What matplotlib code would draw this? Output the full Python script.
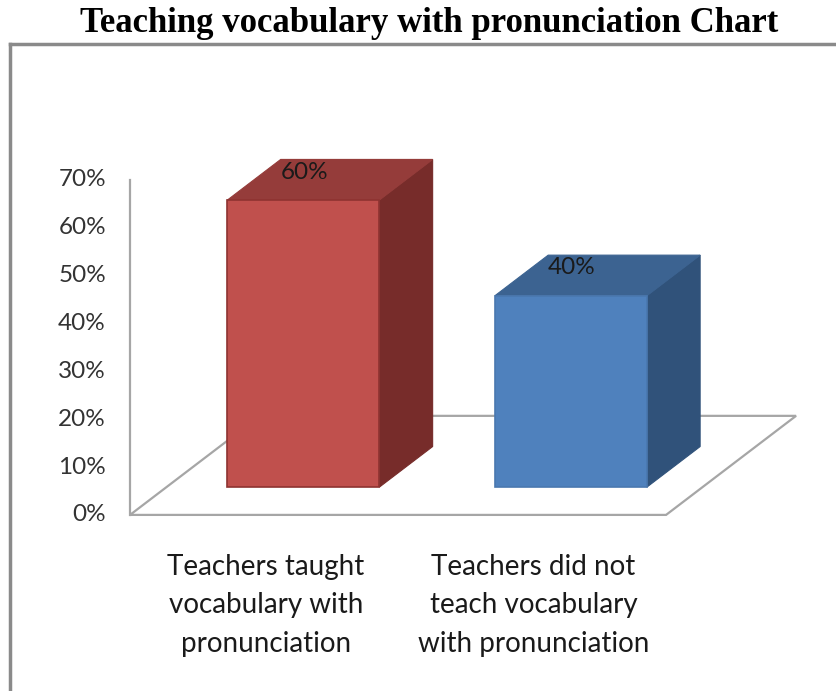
import matplotlib.pyplot as plt
from matplotlib.patches import Polygon
from matplotlib.lines import Line2D

# data
categories = ["Teachers taught\nvocabulary with\npronunciation",
              "Teachers did not\nteach vocabulary\nwith pronunciation"]
values = [60, 40]
value_labels = ["60%", "40%"]
yticks = [0, 10, 20, 30, 40, 50, 60, 70]
ytick_labels = ["0%", "10%", "20%", "30%", "40%", "50%", "60%", "70%"]

front_colors = ["#C0504D", "#4F81BD"]
top_colors = ["#953C3A", "#3C6391"]
side_colors = ["#772C2A", "#30527A"]
edge_colors = ["#8E3331", "#4A78AF"]

# fake 3d geometry (in axis units)
DX, DY = 0.486, 20.7      # full floor depth
F0, F1 = 0.28, 0.41       # bar front offset, bar depth (fractions of floor depth)
W = 0.568                 # bar width
GRID = "#A6A6A6"

fig = plt.figure(figsize=(8.37, 6.91), dpi=100)
ax = fig.add_axes([0, 0, 1, 1])
ax.set_xlim(-0.998, 2.131)
ax.set_ylim(-36.8, 107.6)
ax.axis("off")

# floor
xl, xr = -0.512, 1.492
floor = Polygon([(xl, 0), (xr, 0), (xr + DX, DY), (xl + DX, DY)], closed=True,
                facecolor="white", edgecolor=GRID, lw=1.6, zorder=1)
ax.add_patch(floor)
# vertical axis
ax.plot([xl, xl], [0, yticks[-1]], color=GRID, lw=1.6, zorder=1)
for t, lab in zip(yticks, ytick_labels):
    ax.text(xl - 0.09, t, lab, ha="right", va="center", fontsize=17.5,
            family="Lato", color="#333333")

# bars
for i, v in enumerate(values):
    x0 = i - W / 2 + F0 * DX
    y0 = F0 * DY
    ddx, ddy = F1 * DX, F1 * DY
    side = Polygon([(x0 + W, y0), (x0 + W + ddx, y0 + ddy),
                    (x0 + W + ddx, y0 + v + ddy), (x0 + W, y0 + v)],
                   facecolor=side_colors[i], edgecolor=side_colors[i], lw=0.8, zorder=2)
    top = Polygon([(x0, y0 + v), (x0 + W, y0 + v), (x0 + W + ddx, y0 + v + ddy),
                   (x0 + ddx, y0 + v + ddy)],
                  facecolor=top_colors[i], edgecolor=top_colors[i], lw=0.8, zorder=2)
    ax.add_patch(side)
    ax.add_patch(top)
    ax.bar(x0 + W / 2, v, width=W, bottom=y0, color=front_colors[i],
           edgecolor=edge_colors[i], lw=1.2, zorder=3)
    ax.text(i + 0.14, v + 11.6, value_labels[i], ha="center", va="center",
            fontsize=17.5, family="Lato", color="#1a1a1a", zorder=4)

# category labels
for i, lab in enumerate(categories):
    ax.text(i - 0.004, -18.9, lab, ha="center", va="center", fontsize=20,
            family="Lato", color="#1a1a1a", linespacing=1.58)

# frame and title
fig.add_artist(Line2D([10 / 837, 10 / 837], [0, 1 - 44 / 691], color="#8A8A8A", lw=2.5))
fig.add_artist(Line2D([10 / 837, 1], [1 - 44 / 691, 1 - 44 / 691], color="#8A8A8A", lw=2.5))
fig.text(429 / 837, 1 - 23 / 691, "Teaching vocabulary with pronunciation Chart",
         ha="center", va="center", fontsize=25, family="Liberation Serif",
         fontweight="bold", color="black")

fig.savefig("out.png", dpi=100, facecolor="white")
